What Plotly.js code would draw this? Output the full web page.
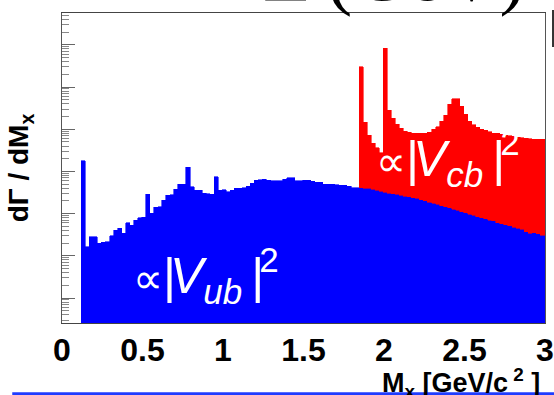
<!DOCTYPE html>
<html>
<head>
<meta charset="utf-8">
<script src="https://cdn.plot.ly/plotly-3.0.1.min.js"></script>
<style>html,body{margin:0;padding:0;background:#fff;} #chart{width:554px;height:395px;}</style>
</head>
<body>
<div id="chart"></div>
<script>
// Histogram binning (M_X in GeV/c^2)
const binLow = 0.12;
const binWidth = 0.025;

// b -> u contribution (blue), one value per bin starting at binLow
const vubVals = [
  1800, 16.4, 28.4, 28, 19.8, 20.7, 21.6, 29.5, 40.9, 45.6,
  34.7, 60.9, 53.7, 70.5, 80, 82, 286, 102, 141, 144,
  210, 276, 280, 377, 495, 500, 1250, 434, 362, 360,
  303, 294, 286, 749, 362, 365, 330, 362, 397, 404,
  411, 451, 523, 625, 630, 650, 625, 602, 600, 602,
  650, 709, 705, 602, 600, 625, 620, 592, 552, 550,
  503, 495, 492, 484, 476, 474, 451, 411, 409, 415,
  404, 397, 383, 362, 343, 325, 308, 298, 285, 273,
  261, 250, 239, 232, 212, 201, 188, 175, 165, 155,
  145, 136, 127, 119, 112, 104, 97.9, 92.7, 85.4, 80.4,
  75.3, 70.5, 68, 60, 58, 54.3, 50.9, 47.6, 44.9, 43,
  37.5, 34.7, 35, 32.9, 31.1, 31
];

// b -> c contribution (red), stacked on top, starting at bin index vcbStartBin
const vcbStartBin = 69;
const vcbVals = [
  302300, 14420, 6890, 4330, 3230, 2390, 839200, 28200, 17830, 13000,
  10400, 8800, 8330, 7750, 7760, 7780, 7790, 8390, 9940, 11300,
  15490, 21550, 39410, 53300, 53310, 35370, 22800, 15540, 12500, 11190,
  10030, 9495, 8750, 8064, 7928, 7632, 7236, 6959, 6852, 6485,
  6318, 6141, 5985, 5825, 5827, 5829, 5829
];

const xTickVals = [0, 0.5, 1, 1.5, 2, 2.5, 3];
const xTickText = ['0', '0.5', '1', '1.5', '2', '2.5', '3'];

const binCenter = k => binLow + binWidth * (k + 0.5);
const xVub = vubVals.map((_, k) => binCenter(k));
const xVcb = vcbVals.map((_, i) => binCenter(i + vcbStartBin));

const majorY = [], minorY = [];
for (let n = -1; n <= 6; n++) {
  majorY.push(Math.pow(10, n));
  for (let m = 2; m <= 9; m++) minorY.push(m * Math.pow(10, n));
}

const traces = [
  {type: 'bar', x: xVub, y: vubVals, width: binWidth, name: 'b→u',
   marker: {color: '#0000ff', line: {width: 0.6, color: '#0000ff'}}, hoverinfo: 'x+y'},
  {type: 'bar', x: xVcb, y: vcbVals, width: binWidth, name: 'b→c',
   marker: {color: '#ff0000', line: {width: 0.6, color: '#ff0000'}}, hoverinfo: 'x+y'}
];

const textFont = {family: 'Liberation Sans, Arial, sans-serif', size: 50, color: '#ffffff'};
const propText = sub =>
  '<span style="font-size:42px">∝</span><span style="letter-spacing:-6px">|</span>' +
  '<i>V</i><sub><i>' + sub + '</i></sub><span style="letter-spacing:-5px"> |</span><sup>2</sup>';

const layout = {
  width: 554, height: 395,
  margin: {l: 62, r: 9, t: 13, b: 72, pad: 0},
  paper_bgcolor: '#ffffff', plot_bgcolor: '#ffffff',
  barmode: 'stack', bargap: 0, showlegend: false,
  xaxis: {
    range: [0, 3], tickmode: 'array', tickvals: xTickVals, ticktext: xTickText,
    ticks: '', showgrid: false, zeroline: false,
    showline: true, mirror: true, linecolor: '#444', linewidth: 1, layer: 'below traces',
    tickfont: {family: 'Liberation Sans, Arial, sans-serif', size: 32, color: '#000', weight: 'bold'},
    ticklabelstandoff: -1
  },
  yaxis: {
    type: 'log', range: [-0.592, 6.754],
    tickmode: 'array', tickvals: majorY, showticklabels: false,
    ticks: 'inside', ticklen: 13, tickcolor: '#666', tickwidth: 1,
    minor: {tickmode: 'array', tickvals: minorY, ticks: 'inside', ticklen: 7, tickcolor: '#888', tickwidth: 1},
    showgrid: false, zeroline: false,
    showline: true, mirror: true, linecolor: '#555', linewidth: 1,
    title: {text: 'dΓ / dM<sub>x</sub>', standoff: 24,
            font: {family: 'Liberation Sans, Arial, sans-serif', size: 28, color: '#000', weight: 'bold'}}
  },
  annotations: [
    {xref: 'paper', yref: 'paper', x: 0.2986, y: 0.153, xanchor: 'center', yanchor: 'middle',
     showarrow: false, font: textFont, text: propText('ub')},
    {xref: 'paper', yref: 'paper', x: 0.799, y: 0.531, xanchor: 'center', yanchor: 'middle',
     showarrow: false, font: textFont, text: propText('cb')},
    {xref: 'paper', yref: 'paper', x: 0.9938, y: -0.1935, xanchor: 'right', yanchor: 'middle',
     showarrow: false,
     font: {family: 'Liberation Sans, Arial, sans-serif', size: 27, color: '#000', weight: 'bold'},
     text: 'M<sub>x</sub> [GeV/c<sup> 2</sup> ]'},
    {xref: 'paper', yref: 'paper', x: 0.963, y: 1.126, xanchor: 'right', yanchor: 'middle',
     showarrow: false,
     font: {family: 'Liberation Serif, Times New Roman, serif', size: 78, color: '#000'},
     text: 'E<span style="font-size:56px">l</span>(GeV)'}
  ],
  shapes: [
    {type: 'line', xref: 'paper', yref: 'paper', x0: -0.103, x1: 1.02, y0: -0.229, y1: -0.229,
     line: {color: '#1f3cff', width: 3.5}, layer: 'above'},
    {type: 'line', xref: 'paper', yref: 'paper', x0: 1.0166, x1: 1.0166, y0: 1.01, y1: 0.89,
     line: {color: '#333', width: 2}, layer: 'above'}
  ]
};

Plotly.newPlot('chart', traces, layout, {displayModeBar: false, staticPlot: true});
</script>
</body>
</html>
